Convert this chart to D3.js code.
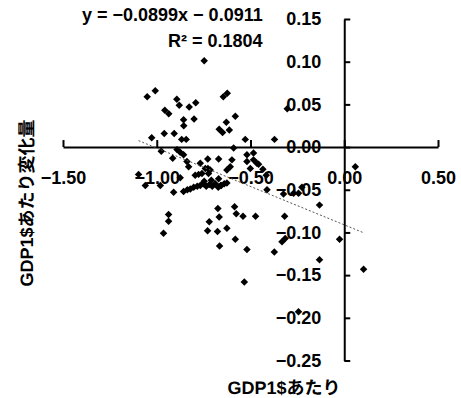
<!DOCTYPE html>
<html lang="ja">
<head>
<meta charset="utf-8">
<title>GDP1$あたり変化量</title>
<script src="https://d3js.org/d3.v7.min.js"></script>
<style>
  body { margin: 0; background: #fff; }
  svg text { font-family: "Liberation Sans", Arial, sans-serif; font-weight: bold; fill: #000; }
  svg text.title { font-family: "Liberation Sans", "Noto Sans CJK JP", sans-serif; text-rendering: geometricPrecision; }
</style>
</head>
<body>
<div id="chart"></div>
<script>
// ---------------- data ----------------
const gdpX = [
  -0.747,-1.051,-1.008,-0.893,-0.88,-0.827,-0.792,-0.957,-0.936,-0.857,
  -0.801,-0.856,-1.027,-0.96,-0.907,-0.867,-0.843,-0.645,-0.624,-0.581,
  -0.629,-0.667,-0.613,-0.649,-0.528,-0.372,-0.304,
  -0.976,-0.892,-0.875,-0.857,-0.915,-0.839,-0.83,-0.768,-0.728,-0.67,
  -0.727,-0.777,-0.59,-0.519,-0.484,-0.608,-0.626,-0.457,-0.434,-0.416,
  -0.412,-1.097,-1.061,-0.91,-0.875,-0.795,-0.715,-0.501,-0.599,-0.67,
  -0.659,-0.759,-0.724,
  -0.857,-0.837,-0.821,-0.803,-0.784,-0.768,-0.752,-0.736,-0.72,-0.704,
  -0.688,-0.672,-0.656,-0.64,-0.626,-0.747,-0.709,-0.981,
  -0.324,-0.27,-0.244,-0.226,-0.132,0.059,-0.937,-0.937,-0.964,-0.674,
  -0.667,-0.72,-0.729,-0.676,-0.626,-0.665,-0.585,-0.576,-0.54,-0.473,
  -0.581,-0.519,-0.533,-0.318,-0.332,-0.315,-0.373,-0.132,-0.244,-0.025,
  0.103,-0.741,-0.519,-0.484,-0.466
];
const gdpChange = [
  0.101,0.059,0.066,0.056,0.049,0.047,0.052,0.043,0.039,0.032,
  0.033,0.025,0.011,0.016,0.016,0.009,0.009,0.059,0.063,0.036,
  0.029,0.021,0.020,0.017,0.009,0.009,0.045,
  -0.005,-0.003,-0.006,-0.009,-0.013,-0.017,-0.023,-0.019,-0.014,-0.014,
  -0.025,-0.032,-0.001,-0.009,-0.015,-0.023,-0.027,-0.020,-0.026,-0.033,
  -0.050,-0.032,-0.045,-0.053,-0.036,-0.033,-0.027,-0.025,-0.015,-0.037,
  -0.045,-0.031,-0.031,
  -0.052,-0.050,-0.049,-0.047,-0.046,-0.045,-0.043,-0.046,-0.044,-0.046,
  -0.043,-0.047,-0.045,-0.043,-0.042,-0.040,-0.039,-0.045,
  -0.055,-0.054,-0.054,-0.047,-0.068,-0.023,-0.079,-0.087,-0.101,-0.072,
  -0.082,-0.0875,-0.098,-0.099,-0.095,-0.116,-0.070,-0.078,-0.081,-0.081,
  -0.108,-0.12,-0.158,-0.081,-0.111,-0.107,-0.123,-0.132,-0.193,-0.108,
  -0.143,-0.025,-0.017,-0.007,-0.019
];
const xTicks = [-1.5, -1.0, -0.5, 0.0, 0.5];
const yTicks = [0.15, 0.10, 0.05, 0.00, -0.05, -0.10, -0.15, -0.20, -0.25];
const slope = -0.0899;
const intercept = -0.0911;
const eqLine1 = "y = \u22120.0899x \u2212 0.0911";
const eqLine2 = "R\u00B2 = 0.1804";
const xTitle = "GDP1$あたり";
const yTitle = "GDP1$あたり変化量";

// ---------------- setup ----------------
const width = 461, height = 398;
const fontSize = 18;
const fmt = v => d3.format(".2f")(v).replace("-", "\u2212");

const svg = d3.select("#chart").append("svg")
    .attr("width", width)
    .attr("height", height);

const x = d3.scaleLinear().domain([-1.5, 0.5]).range([63, 438]);
const y = d3.scaleLinear().domain([-0.25, 0.15]).range([360.5, 19]);

// x axis: crosses at y = 0, ticks point up, labels hang well below
const gx = svg.append("g")
    .attr("transform", "translate(0," + y(0) + ")")
    .call(d3.axisTop(x).tickValues(xTicks).tickSize(7).tickSizeOuter(0).tickFormat(fmt));
gx.selectAll("text")
    .attr("y", 31)
    .attr("dy", "0.35em")
    .style("font-size", fontSize + "px");

// y axis: crosses at x = 0, ticks point right, labels on the left
const gy = svg.append("g")
    .attr("transform", "translate(" + x(0) + ",0)")
    .call(d3.axisRight(y).tickValues(yTicks).tickSize(6).tickSizeOuter(0).tickFormat(fmt));
gy.selectAll("text")
    .attr("x", -23)
    .attr("text-anchor", "end")
    .style("font-size", fontSize + "px");

svg.selectAll(".domain, .tick line")
    .attr("stroke", "#000")
    .attr("stroke-width", 2);

// ---------------- points ----------------
const points = gdpX.map((v, i) => ({ x: v, y: gdpChange[i] }));
const diamond = d3.symbol().type(d3.symbolSquare).size(28);

svg.append("g").selectAll("path")
    .data(points)
    .enter()
    .append("path")
    .attr("d", diamond)
    .attr("transform", d => "translate(" + x(d.x) + "," + y(d.y) + ") rotate(45)")
    .attr("fill", "#000");

// ---------------- trend line ----------------
const xExt = d3.extent(gdpX);
const line = d3.line()
    .x(d => x(d))
    .y(d => y(slope * d + intercept));
svg.append("path")
    .datum(xExt)
    .attr("d", line)
    .attr("fill", "none")
    .attr("stroke", "#555")
    .attr("stroke-width", 1)
    .attr("stroke-dasharray", "2,2");

// ---------------- labels ----------------
svg.append("text")
    .attr("x", 82).attr("y", 21)
    .style("font-size", fontSize + "px")
    .text(eqLine1);
svg.append("text")
    .attr("x", 168).attr("y", 47)
    .style("font-size", fontSize + "px")
    .text(eqLine2);

svg.append("text")
    .attr("class", "title")
    .attr("x", 284).attr("y", 388)
    .attr("dy", "0.35em")
    .attr("text-anchor", "middle")
    .style("font-size", fontSize + "px")
    .text(xTitle);

svg.append("text")
    .attr("class", "title")
    .attr("transform", "translate(27,203) rotate(-90)")
    .attr("dy", "0.35em")
    .attr("text-anchor", "middle")
    .style("font-size", fontSize + "px")
    .text(yTitle);
</script>
</body>
</html>
